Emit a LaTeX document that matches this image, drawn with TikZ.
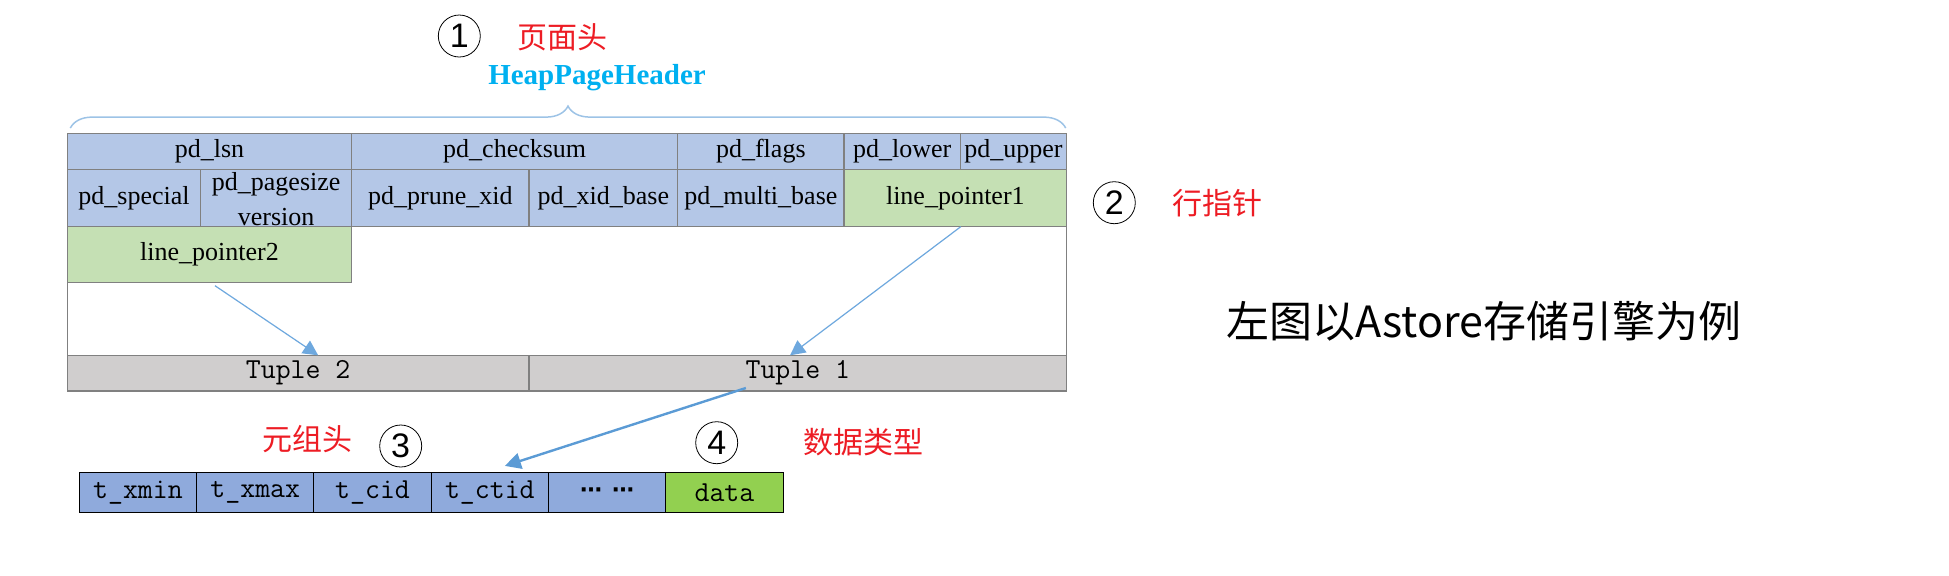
\documentclass[tikz,border=0pt]{standalone}
\usepackage{fontspec}
\setmainfont{Liberation Serif}
\newfontfamily\cjk{Noto Sans CJK SC}
\newfontfamily\numfont{Liberation Sans}
\newfontfamily\symfont{DejaVu Sans}
\usetikzlibrary{arrows.meta,positioning,decorations.pathreplacing}

\definecolor{hdrblue}{RGB}{180,199,231}
\definecolor{ptrgreen}{RGB}{197,224,180}
\definecolor{tupgray}{RGB}{208,206,206}
\definecolor{fldblue}{RGB}{143,170,220}
\definecolor{datagreen}{RGB}{146,208,80}
\definecolor{linegray}{RGB}{128,128,128}
\definecolor{arrowblue}{RGB}{91,155,213}
\definecolor{ptrblue}{RGB}{110,168,222}
\definecolor{bracecol}{RGB}{157,195,230}
\definecolor{hdrcyan}{RGB}{0,176,240}
\definecolor{notered}{RGB}{237,28,36}

\tikzset{
  >=Stealth,
  cell/.style={rectangle, draw=linegray, line width=0.75pt, inner sep=0pt, outer sep=0pt, minimum height=18pt, font=\fontsize{13}{15}\selectfont},
  hdr/.style={cell, fill=hdrblue},
  ptr/.style={cell, fill=ptrgreen},
  tup/.style={cell, fill=tupgray, font=\ttfamily\fontsize{14.5}{16}\selectfont},
  fld/.style={rectangle, draw=black, line width=0.5pt, fill=fldblue, inner sep=0pt, outer sep=0pt, minimum width=58.65pt, minimum height=20pt, font=\ttfamily\fontsize{14.5}{16}\selectfont},
  numc/.style={circle, draw, line width=0.4pt, inner sep=0pt, minimum size=21pt, font=\numfont\fontsize{17}{17}\selectfont},
  note/.style={text=notered, font=\cjk\fontsize{15}{15}\selectfont},
  ptrarrow/.style={-{Triangle[length=7.5pt,width=7.5pt]}, ptrblue, line width=0.6pt},
  tuparrow/.style={-{Triangle[length=8pt,width=8pt]}, arrowblue, line width=1.2pt}
}

\begin{document}
\begin{tikzpicture}[x=0.5pt, y=-0.5pt]
\useasboundingbox (0,0) rectangle (1949,575);

% page frame
\node[draw=linegray, line width=0.75pt, fill=white, inner sep=0pt, outer sep=0pt, anchor=north west,
      minimum width=499.7pt, minimum height=128.85pt] (page) at (67.3,133.3) {};

% page header, first row
\node[hdr, anchor=north west, minimum width=142.2pt] (lsn) at (67.3,133.3) {pd\_lsn};
\node[hdr, right=0pt of lsn, minimum width=163pt] (checksum) {pd\_checksum};
\node[hdr, right=0pt of checksum, minimum width=83.15pt] (flags) {pd\_flags};
\node[hdr, right=0pt of flags, minimum width=58.15pt] (lower) {pd\_lower};
\node[hdr, right=0pt of lower, minimum width=53.2pt] (upper) {pd\_upper};

% page header, second row
\node[hdr, below right=0pt and 0pt of lsn.south west, minimum width=66.7pt, minimum height=28.7pt] (special) {pd\_special};
\node[hdr, right=0pt of special, minimum width=75.5pt, minimum height=28.7pt] (pagesize)
  {\raisebox{-5pt}[0pt][0pt]{\begin{tabular}{@{}c@{}}pd\_pagesize\\[2.5pt]version\end{tabular}}};
\node[hdr, right=0pt of pagesize, minimum width=88.65pt, minimum height=28.7pt] (prune) {pd\_prune\_xid};
\node[hdr, right=0pt of prune, minimum width=74.35pt, minimum height=28.7pt] (xidbase) {pd\_xid\_base};
\node[hdr, right=0pt of xidbase, minimum width=83.15pt, minimum height=28.7pt] (multibase) {pd\_multi\_base};
\node[ptr, right=0pt of multibase, minimum width=111.35pt, minimum height=28.7pt] (lp1) {line\_pointer1};

% line pointer 2
\node[ptr, below right=0pt and 0pt of special.south west, minimum width=142.2pt, minimum height=28pt] (lp2) {line\_pointer2};

% tuples
\node[tup, above right=0pt and 0pt of page.south west, minimum width=230.85pt, minimum height=17.85pt] (t2) {Tuple 2};
\node[tup, right=0pt of t2, minimum width=268.85pt, minimum height=17.85pt] (t1) {Tuple 1};

% tuple header fields
\node[fld, anchor=north west] (xmin) at (79.3,472.7) {t\_xmin};
\node[fld, right=0pt of xmin] (xmax) {t\_xmax};
\node[fld, right=0pt of xmax] (cid) {t\_cid};
\node[fld, right=0pt of cid] (ctid) {t\_ctid};
\node[fld, right=0pt of ctid] (dots) {\symfont\bfseries\fontsize{11}{11}\selectfont ⋯\hspace{5pt}⋯};
\node[fld, right=0pt of dots, fill=datagreen] (data) {data};

% labels
\node[numc] (n1) at (459.3,36) {1};
\node[note] (n1txt) at (562,37) {页面头};
\node[text=hdrcyan, font=\bfseries\fontsize{14.5}{15}\selectfont] (hph) at (597,78) {HeapPageHeader};
\node[numc] (n2) at (1114.3,202.7) {2};
\node[note] (n2txt) at (1217,203) {行指针};
\node[numc] (n3) at (400.7,446) {3};
\node[note] (n3txt) at (307.5,439) {元组头};
\node[numc] (n4) at (716.7,442.7) {4};
\node[note] (n4txt) at (863,441.7) {数据类型};
\node[anchor=west, inner sep=0pt, font=\cjk\fontsize{21.5}{21.5}\selectfont] (caption) at (1226,321) {左图以Astore存储引擎为例};

% brace over header
\draw[bracecol, line width=0.75pt, decorate, decoration={brace, amplitude=11pt}]
  ([xshift=1.5pt, yshift=2.6pt]page.north west) -- ([xshift=-0.5pt, yshift=2.6pt]page.north east);

% pointers
\draw[ptrarrow] ([xshift=2.75pt, yshift=-1.5pt]lp2.south) -- ([xshift=10pt]t2.north);
\draw[ptrarrow] ([xshift=2.7pt]lp1.south) -- ([xshift=-3.9pt]t1.north);
\draw[tuparrow] ([xshift=-26pt, yshift=1.5pt]t1.south) -- ([xshift=7.5pt, yshift=3.4pt]ctid.north);

\end{tikzpicture}
\end{document}
